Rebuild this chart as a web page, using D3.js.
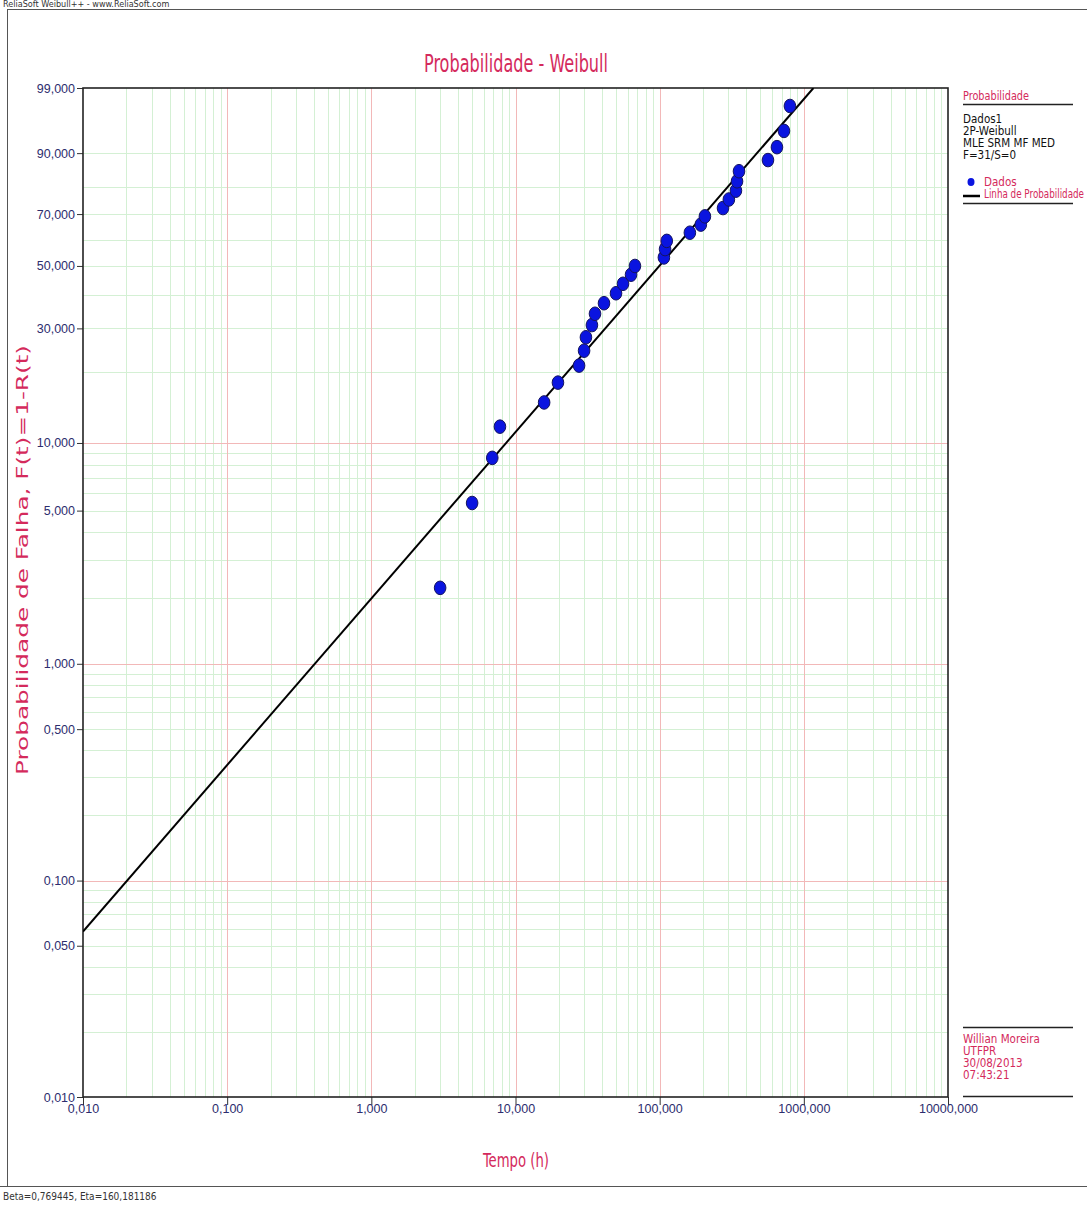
<!DOCTYPE html>
<html lang="pt">
<head>
<meta charset="utf-8">
<title>Probabilidade - Weibull</title>
<script src="https://d3js.org/d3.v7.min.js"></script>
<style>
  body { margin: 0; background: #fff; }
  svg { display: block; font-family: "DejaVu Sans Condensed", "Liberation Sans Narrow", sans-serif; }
  .tick text { fill: #2d2d6e; font-size: 12.5px; }
  .crimson { fill: #d42a5c; }
</style>
</head>
<body>
<div id="chart"></div>
<script>
// ---- data ----
var xTicks = [0.01, 0.1, 1, 10, 100, 1000, 10000];
var yTicks = [99, 90, 70, 50, 30, 10, 5, 1, 0.5, 0.1, 0.05, 0.01];
var yMajor = [0.1, 1, 10];
var yMinor = [0.02, 0.03, 0.04, 0.05, 0.06, 0.07, 0.08, 0.09,
              0.2, 0.3, 0.4, 0.5, 0.6, 0.7, 0.8, 0.9,
              2, 3, 4, 5, 6, 7, 8, 9,
              20, 30, 40, 50, 60, 70, 80, 90];

// failure times (h) and plotted unreliability (%)
var tempos = [3.0, 5.0, 6.9, 7.8, 15.8, 19.7, 27.6, 29.9, 30.8, 33.9, 35.6,
              41.1, 49.8, 55.7, 63.3, 67.4, 107, 109, 112, 162, 193, 206,
              275, 302, 338, 344, 355, 564, 651, 728, 801];
var falhas = [2.23, 5.41, 8.60, 11.78, 14.97, 18.15, 21.34, 24.52, 27.71, 30.89,
              34.08, 37.26, 40.45, 43.63, 46.82, 50.00, 53.18, 56.37, 59.55, 62.74,
              65.92, 69.11, 72.29, 75.48, 78.66, 81.85, 85.03, 88.22, 91.40, 94.59, 97.77];

var beta = 0.769445, eta = 160.181186;

var legendTop = ["Dados1", "2P-Weibull", "MLE SRM MF MED", "F=31/S=0"];
var legendBottom = ["Willian Moreira", "UTFPR", "30/08/2013", "07:43:21"];

// ---- layout ----
var W = 1087, H = 1205;
var L = 83, R = 948, T = 88, B = 1097;

var svg = d3.select("#chart").append("svg")
    .attr("width", W).attr("height", H);

// weibull probability transform
function wb(p) { return Math.log(-Math.log(1 - p / 100)); }

var x = d3.scaleLog().domain([0.01, 10000]).range([L, R]);
var yl = d3.scaleLinear().domain([wb(0.01), wb(99)]).range([B, T]);
function y(p) { return yl(wb(p)); }

// outer frame
svg.append("line").attr("x1", 7).attr("x2", W).attr("y1", 9.5).attr("y2", 9.5)
    .attr("stroke", "#555").attr("stroke-width", 1);
svg.append("line").attr("x1", 7.5).attr("x2", 7.5).attr("y1", 9).attr("y2", 1186)
    .attr("stroke", "#555").attr("stroke-width", 1);
svg.append("line").attr("x1", 0).attr("x2", W).attr("y1", 1186.5).attr("y2", 1186.5)
    .attr("stroke", "#555").attr("stroke-width", 1);

svg.append("text").attr("x", 3).attr("y", 7)
    .style("font-size", "9px").attr("fill", "#333")
    .text("ReliaSoft Weibull++ - www.ReliaSoft.com");
svg.append("text").attr("x", 3).attr("y", 1200)
    .style("font-size", "10px").attr("fill", "#333")
    .text("Beta=0,769445, Eta=160,181186");

// title
svg.append("text").attr("class", "crimson")
    .attr("x", 516).attr("y", 72).attr("text-anchor", "middle")
    .style("font-size", "24px")
    .attr("textLength", 184).attr("lengthAdjust", "spacingAndGlyphs")
    .text("Probabilidade - Weibull");

// grid
var grid = svg.append("g");
var xMinor = [];
for (var d = 0.01; d < 10000; d *= 10) {
  for (var k = 2; k <= 9; k++) xMinor.push(+(d * k).toPrecision(3));
}
grid.selectAll(".vmin").data(xMinor).enter().append("line")
    .attr("x1", function (v) { return Math.round(x(v)) + 0.5; })
    .attr("x2", function (v) { return Math.round(x(v)) + 0.5; })
    .attr("y1", T).attr("y2", B)
    .attr("stroke", "#d4f0d4");
grid.selectAll(".hmin").data(yMinor).enter().append("line")
    .attr("y1", function (v) { return Math.round(y(v)) + 0.5; })
    .attr("y2", function (v) { return Math.round(y(v)) + 0.5; })
    .attr("x1", L).attr("x2", R)
    .attr("stroke", "#d4f0d4");
grid.selectAll(".vmaj").data(xTicks.slice(1, -1)).enter().append("line")
    .attr("x1", function (v) { return Math.round(x(v)) + 0.5; })
    .attr("x2", function (v) { return Math.round(x(v)) + 0.5; })
    .attr("y1", T).attr("y2", B)
    .attr("stroke", "#f2b8b8");
grid.selectAll(".hmaj").data(yMajor).enter().append("line")
    .attr("y1", function (v) { return Math.round(y(v)) + 0.5; })
    .attr("y2", function (v) { return Math.round(y(v)) + 0.5; })
    .attr("x1", L).attr("x2", R)
    .attr("stroke", "#f2b8b8");

// axes
function fmt(v) { return d3.format(".3f")(v).replace(".", ","); }

var yAxis = svg.append("g").attr("transform", "translate(" + L + ",0)")
    .call(d3.axisLeft(yl).tickValues(yTicks.map(wb)).tickSize(6).tickPadding(2)
      .tickFormat(function (d, i) { return fmt(yTicks[i]); }));
yAxis.select(".domain").remove();
yAxis.selectAll(".tick line").attr("stroke", "#333");

var xAxis = svg.append("g").attr("transform", "translate(0," + B + ")")
    .call(d3.axisBottom(x).tickValues(xTicks).tickSize(8).tickPadding(1)
      .tickFormat(fmt));
xAxis.select(".domain").remove();
xAxis.selectAll(".tick line").attr("stroke", "#333");
xAxis.selectAll(".tick text").attr("dy", "0.55em");

// plot box
svg.append("rect").attr("x", L).attr("y", T).attr("width", R - L).attr("height", B - T)
    .attr("fill", "none").attr("stroke", "#222").attr("stroke-width", 1.6);

// axis titles
svg.append("text").attr("class", "crimson")
    .attr("transform", "translate(28,560) rotate(-90)")
    .attr("text-anchor", "middle")
    .style("font-family", "'DejaVu Sans', sans-serif").style("font-size", "15px")
    .attr("textLength", 430).attr("lengthAdjust", "spacingAndGlyphs")
    .text("Probabilidade de Falha, F(t)=1-R(t)");
svg.append("text").attr("class", "crimson")
    .attr("x", 516).attr("y", 1167).attr("text-anchor", "middle")
    .style("font-size", "20px")
    .attr("textLength", 66).attr("lengthAdjust", "spacingAndGlyphs")
    .text("Tempo (h)");

// probability line from beta / eta
svg.append("clipPath").attr("id", "clip").append("rect")
    .attr("x", L).attr("y", T).attr("width", R - L).attr("height", B - T);
var tEnd = eta * Math.pow(-Math.log(1 - 0.99), 1 / beta);
var lineData = [0.01, tEnd].map(function (t) {
  return [t, 100 * (1 - Math.exp(-Math.pow(t / eta, beta)))];
});
svg.append("path").datum(lineData)
    .attr("clip-path", "url(#clip)")
    .attr("fill", "none").attr("stroke", "#000").attr("stroke-width", 2)
    .attr("d", d3.line()
      .x(function (d) { return x(d[0]); })
      .y(function (d) { return y(d[1]); }));

// points
svg.append("g").selectAll("ellipse").data(tempos).enter().append("ellipse")
    .attr("cx", function (t) { return x(t); })
    .attr("cy", function (t, i) { return y(falhas[i]); })
    .attr("rx", 5.8).attr("ry", 6.8)
    .attr("fill", "#0a14e0").attr("stroke", "#141460").attr("stroke-width", 1);

// legend (top)
var lg = svg.append("g").style("font-size", "11.5px");
lg.append("text").attr("class", "crimson").attr("x", 963).attr("y", 100)
    .attr("textLength", 66).attr("lengthAdjust", "spacingAndGlyphs").text("Probabilidade");
lg.append("line").attr("x1", 963).attr("x2", 1073).attr("y1", 104.5).attr("y2", 104.5)
    .attr("stroke", "#222").attr("stroke-width", 1.5);
lg.selectAll(".lt").data(legendTop).enter().append("text")
    .attr("x", 963).attr("y", function (d, i) { return 123 + i * 12; })
    .attr("fill", "#111").text(function (d) { return d; });
lg.append("ellipse").attr("cx", 971).attr("cy", 182).attr("rx", 3.5).attr("ry", 4)
    .attr("fill", "#0a14e0");
lg.append("text").attr("class", "crimson").attr("x", 984).attr("y", 186).text("Dados");
lg.append("line").attr("x1", 963).attr("x2", 980).attr("y1", 196).attr("y2", 196)
    .attr("stroke", "#000").attr("stroke-width", 2.5);
lg.append("text").attr("class", "crimson").attr("x", 984).attr("y", 198)
    .attr("textLength", 100).attr("lengthAdjust", "spacingAndGlyphs")
    .text("Linha de Probabilidade");
lg.append("line").attr("x1", 963).attr("x2", 1073).attr("y1", 203.5).attr("y2", 203.5)
    .attr("stroke", "#222").attr("stroke-width", 1.5);

// legend (bottom)
var lb = svg.append("g").style("font-size", "11.5px");
lb.append("line").attr("x1", 963).attr("x2", 1073).attr("y1", 1027.5).attr("y2", 1027.5)
    .attr("stroke", "#222").attr("stroke-width", 1.5);
lb.selectAll(".lbt").data(legendBottom).enter().append("text")
    .attr("class", "crimson")
    .attr("x", 963).attr("y", function (d, i) { return 1043 + i * 12; })
    .text(function (d) { return d; });
lb.append("line").attr("x1", 963).attr("x2", 1073).attr("y1", 1096.5).attr("y2", 1096.5)
    .attr("stroke", "#222").attr("stroke-width", 1.5);
</script>
</body>
</html>
